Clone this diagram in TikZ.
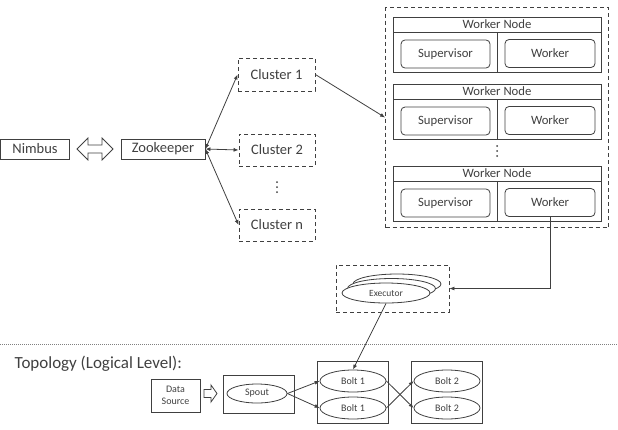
\documentclass[tikz,border=0pt]{standalone}
\usepackage{fontspec}
\setmainfont{Carlito}
\usepackage{tikz}
\usetikzlibrary{positioning,shapes.geometric,arrows.meta}
\definecolor{ink}{HTML}{404040}

\begin{document}
\begin{tikzpicture}[x=1pt,y=-1pt,
	line width=0.8pt, draw=ink, text=ink,
	box/.style={draw=ink, rectangle, inner sep=0pt},
	dbox/.style={box, dashed, dash pattern=on 4pt off 3pt},
	rbox/.style={box, rounded corners=4pt, minimum width=89, minimum height=28, font=\fontsize{12.7}{14}\selectfont},
	oval/.style={draw=ink, ellipse, inner sep=0pt, fill=white, minimum width=66, minimum height=22, font=\fontsize{10}{12}\selectfont},
	big/.style={font=\fontsize{14.5}{16}\selectfont},
	tip/.style={-{Latex[length=5pt,width=4pt]}},
	both/.style={{Latex[length=5pt,width=4pt]}-{Latex[length=5pt,width=4pt]}}]
	\useasboundingbox (0,0) rectangle (618,429);
	
	% 1. 左侧 Nimbus 与 Zookeeper
	\node (nimbus) [box, big, minimum width=69, minimum height=20] at (35,149) {Nimbus};
	\node (zk) [box, big, minimum width=84, minimum height=20] at (163,149) {Zookeeper};
	\draw[fill=white] (77,149) -- (88,138) -- (88,145) -- (102,145) -- (102,138) -- (113,149)
		-- (102,160) -- (102,153) -- (88,153) -- (88,160) -- cycle;
	
	% 2. 集群（虚线框）
	\node (c1) [dbox, big, minimum width=77, minimum height=33] at (276.5,74.5) {Cluster 1};
	\node (c2) [dbox, big, minimum width=76, minimum height=32] at (277,150) {Cluster 2};
	\node (cn) [dbox, big, minimum width=76, minimum height=32] at (277,225) {Cluster n};
	\foreach \d in {182,187,192}
	\fill[ink] (277,\d) circle (1pt);
	\draw[both] (zk.east) -- (c1.west);
	\draw[both] (zk.east) -- (c2.west);
	\draw[both] (zk.east) -- (cn.west);
	
	% 3. 右上：Worker Node 组
	\node (pool) [dbox, minimum width=223, minimum height=220] at (497,117.5) {};
	\foreach \t/\i in {17/1,84/2,166/3}{
		\node (wn\i) [box, minimum width=208, minimum height=55] at (497,\t+27.5) {};
		\draw (393,\t+15) -- (601,\t+15);
		\draw (497,\t+15) -- (497,\t+55);
		\node (title\i) [font=\fontsize{12.7}{14}\selectfont] at (497,\t+7.5) {Worker Node};
		\node (sup\i) [rbox] at (445.5,\t+37) {Supervisor};
		\node (wk\i) [rbox, minimum width=90] at (550,\t+36.5) {Worker};
	}
	\foreach \d in {146,151,156}
	\fill[ink] (497,\d) circle (1pt);
	\draw[tip] (c1.east) -- (pool.west);
	
	% 4. Executor
	\node (exe) [dbox, minimum width=113, minimum height=47] at (392.5,288.5) {};
	\node (e3) [oval, minimum width=88, minimum height=20] at (397,284) {};
	\node (e2) [oval, minimum width=88, minimum height=20] at (391.5,288.5) {};
	\node (e1) [oval, minimum width=88, minimum height=20, font=\fontsize{9.5}{11}\selectfont] at (386,293) {Executor};
	\draw[tip] (wk3.south) |- (exe.east);
	
	% 5. 分隔线与拓扑（逻辑层）
	\draw[gray, line width=0.6pt, dash pattern=on 1pt off 1pt] (0,344) -- (618,344);
	\node (topo) [anchor=base west, font=\fontsize{17}{20}\selectfont] at (11,368) {Topology (Logical Level):};
	
	\node (src) [box, minimum width=49, minimum height=33, align=center, font=\fontsize{10}{12}\selectfont] at (175.5,395.5) {Data\\Source};
	\draw[fill=white] (204,389.5) -- (211,389.5) -- (211,385) -- (217,393.5) -- (211,402) -- (211,397.5) -- (204,397.5) -- cycle;
	
	\node (spbox) [box, minimum width=71, minimum height=38] at (258.5,394) {};
	\node (sp) [oval, minimum width=60, minimum height=19] at (257,393.5) {Spout};
	
	\node (b1box) [box, minimum width=71, minimum height=62] at (352.5,392) {};
	\node (b1a) [oval] at (353,381) {Bolt 1};
	\node (b1b) [oval] at (353,408) {Bolt 1};
	
	\node (b2box) [box, minimum width=71, minimum height=62] at (446.5,392) {};
	\node (b2a) [oval] at (447,381) {Bolt 2};
	\node (b2b) [oval] at (447,408) {Bolt 2};
	
	\draw[tip] (e1.south) -- (b1a.north);
	\draw[tip] (sp.east) -- (b1a.west);
	\draw[tip] (sp.east) -- (b1b.west);
	\draw[tip] (b1a.east) -- (b2b.west);
	\draw[tip] (b1b.east) -- (b2a.west);
\end{tikzpicture}
\end{document}
